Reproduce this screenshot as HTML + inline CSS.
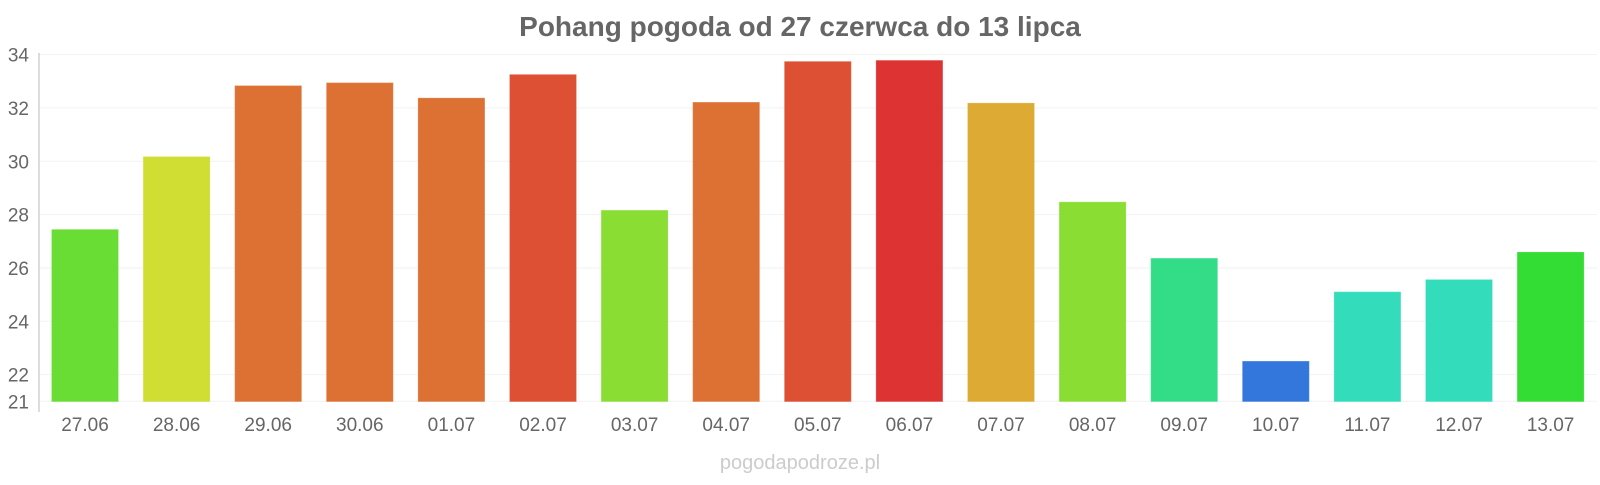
<!DOCTYPE html>
<html><head><meta charset="utf-8"><style>
body{margin:0;background:#fff;font-family:"Liberation Sans",sans-serif}
svg text{font-family:"Liberation Sans",sans-serif}
</style></head><body>
<svg id="chart" width="1600" height="480">
<text x="800" y="36" text-anchor="middle" font-size="28" font-weight="bold" fill="#666">Pohang pogoda od 27 czerwca do 13 lipca</text>
<g id="grid"></g><g id="bars"></g><g id="axes"></g>
<text x="800" y="469" text-anchor="middle" font-size="20" fill="#ccc">pogodapodroze.pl</text>
</svg>
<script>
const categories=["27.06","28.06","29.06","30.06","01.07","02.07","03.07","04.07","05.07","06.07","07.07","08.07","09.07","10.07","11.07","12.07","13.07"];
const temps=[27.43,30.16,32.82,32.93,32.36,33.24,28.15,32.2,33.73,33.77,32.17,28.46,26.35,22.49,25.09,25.55,26.58];
const yTicks=[21,22,24,26,28,30,32,34];
const colors=["#69dd33","#d0dd33","#dd7033","#dd7033","#dd7033","#dd5033","#8add33","#dd7033","#dd5033","#dd3333","#ddaa33","#8add33","#33dd88","#3377dd","#33ddbb","#33ddbb","#33dd33"];
const ns="http://www.w3.org/2000/svg";
const X0=39,SLOT=91.6,BW=66,Y0=401.3,YMIN=21,PX=26.67;
const y=v=>Y0-(v-YMIN)*PX;
const x=i=>X0+i*SLOT;
function mk(t,a,p){const e=document.createElementNS(ns,t);for(const k in a)e.setAttribute(k,a[k]);p.appendChild(e);return e;}
const g=document.getElementById('grid'),b=document.getElementById('bars'),ax=document.getElementById('axes');
yTicks.forEach(v=>{
const l=mk('line',{x1:X0,x2:1597,y1:y(v),y2:y(v),stroke:'#f2f2f2','stroke-width':1},g);


const t=mk('text',{x:29,y:y(v)+7,'text-anchor':'end','font-size':19,fill:'#666'},ax);
t.textContent=v;


});
temps.forEach((v,i)=>{
const r=mk('rect',{x:x(i)+13,y:y(v),width:BW,height:Y0-y(v),fill:colors[i],stroke:colors[i],'stroke-width':1,'stroke-opacity':0.8},b);


const t=mk('text',{x:x(i)+13+BW/2,y:431,'text-anchor':'middle','font-size':19,fill:'#666'},ax);
t.textContent=categories[i];


});
const a=mk('line',{x1:X0,x2:X0,y1:53,y2:412,stroke:'#bbb','stroke-width':1},ax);


</script>
</body></html>
